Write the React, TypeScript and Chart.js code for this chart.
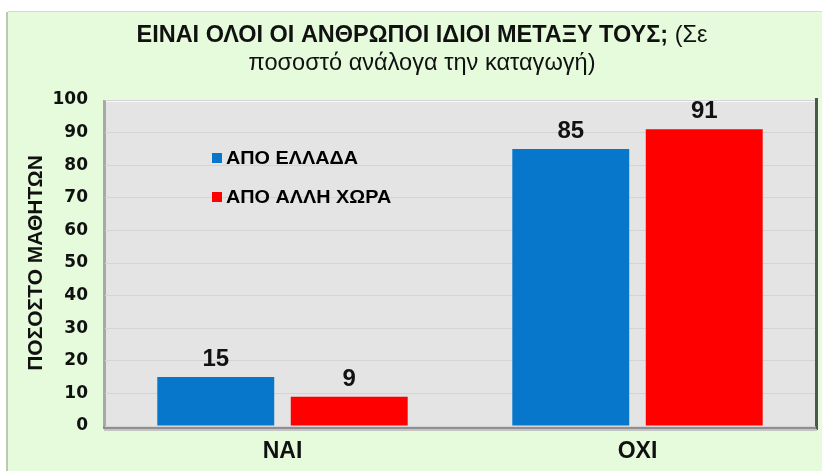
import React, { useEffect, useRef } from "react";
import { Chart, registerables } from "chart.js";

Chart.register(...registerables);

const categories = ["ΝΑΙ", "ΟΧΙ"];
const seriesNames = ["ΑΠΟ ΕΛΛΑΔΑ", "ΑΠΟ ΑΛΛΗ ΧΩΡΑ"];
const greeceValues = [15, 85];
const otherValues = [9, 91];
const seriesColors = ["#0777cc", "#ff0000"];
const yTicks = [0, 10, 20, 30, 40, 50, 60, 70, 80, 90, 100];
const titleBold = "ΕΙΝΑΙ ΟΛΟΙ ΟΙ ΑΝΘΡΩΠΟΙ ΙΔΙΟΙ ΜΕΤΑΞΥ ΤΟΥΣ;";
const titleNormal = " (Σε";
const titleLine2 = "ποσοστό ανάλογα την καταγωγή)";
const yAxisTitle = "ΠΟΣΟΣΤΟ ΜΑΘΗΤΩΝ";

const FONT = "'Liberation Sans', Arial, sans-serif";
const WIDE = "'DejaVu Sans', 'Liberation Sans', sans-serif";

const backgroundPlugin = {
  id: "bgPlugin",
  beforeDraw(chart: any) {
    const { ctx, chartArea } = chart;
    const W = chart.width, H = chart.height;
    ctx.save();
    ctx.fillStyle = "#ffffff";
    ctx.fillRect(0, 0, W, H);
    ctx.fillStyle = "#e5fbdb";
    ctx.fillRect(8, 12, W - 8, H - 12);
    ctx.fillStyle = "#b9c9b3";
    ctx.fillRect(6, 12, 2, H - 12);
    ctx.fillStyle = "#d3dccf";
    ctx.fillRect(8, 11, W - 8, 1);
    const { left, right, top, bottom } = chartArea;
    ctx.fillStyle = "#e4e4e4";
    ctx.fillRect(left, top, right - left, bottom - top);
    ctx.fillStyle = "#a8a8a8";
    ctx.fillRect(left - 2, top, 3, bottom - top + 3);
    ctx.fillStyle = "#f7f7f7";
    ctx.fillRect(left + 1, top, right - left, 2);
    ctx.fillStyle = "#4a5a4a";
    ctx.fillRect(right, top - 2, 3, bottom - top + 6);
    ctx.fillStyle = "#8f8f8f";
    ctx.fillRect(left - 2, bottom, right - left + 3, 3);
    ctx.fillStyle = "#c4c4c4";
    ctx.fillRect(left - 1, bottom + 3, right - left + 3, 2);
    ctx.restore();
  },
  afterDraw(chart: any) {
    const { ctx } = chart;
    ctx.save();
    ctx.fillStyle = "#111111";
    ctx.textBaseline = "alphabetic";
    ctx.textAlign = "left";
    const cx = 422;
    ctx.font = `bold 24px ${FONT}`;
    const wb = ctx.measureText(titleBold).width;
    ctx.font = `24px ${FONT}`;
    const wn = ctx.measureText(titleNormal).width;
    const target1 = 571;
    const s1 = target1 / (wb + wn);
    ctx.save();
    ctx.translate(cx - target1 / 2, 42);
    ctx.scale(s1, 1);
    ctx.font = `bold 24px ${FONT}`;
    ctx.fillText(titleBold, 0, 0);
    ctx.font = `24px ${FONT}`;
    ctx.fillText(titleNormal, wb, 0);
    ctx.restore();
    ctx.font = `24px ${FONT}`;
    const w2 = ctx.measureText(titleLine2).width;
    const target2 = 347;
    const s2 = target2 / w2;
    ctx.save();
    ctx.translate(cx - target2 / 2, 70);
    ctx.scale(s2, 1);
    ctx.fillText(titleLine2, 0, 0);
    ctx.restore();

    const legendItems = [
      { y: 158, color: seriesColors[0], text: seriesNames[0] },
      { y: 197, color: seriesColors[1], text: seriesNames[1] },
    ];
    ctx.font = `bold 18px ${FONT}`;
    ctx.textBaseline = "middle";
    const ls = 132 / ctx.measureText(seriesNames[0]).width;
    legendItems.forEach((it) => {
      ctx.fillStyle = it.color;
      ctx.fillRect(212, it.y - 5, 10, 10);
      ctx.fillStyle = "#000000";
      ctx.save();
      ctx.translate(226, it.y + 1);
      ctx.scale(ls, 1);
      ctx.fillText(it.text, 0, 0);
      ctx.restore();
    });

    ctx.font = `bold 24px ${FONT}`;
    ctx.textAlign = "center";
    ctx.textBaseline = "alphabetic";
    ctx.fillStyle = "#111111";
    chart.data.datasets.forEach((ds: any, i: number) => {
      const meta = chart.getDatasetMeta(i);
      meta.data.forEach((bar: any, j: number) => {
        ctx.fillText(String(ds.data[j]), bar.x, bar.y - 11);
      });
    });
    ctx.restore();
  },
};

export default function App() {
  const ref = useRef<HTMLCanvasElement | null>(null);
  useEffect(() => {
    if (!ref.current) return;
    const chart = new Chart(ref.current, {
      type: "bar",
      data: {
        labels: categories,
        datasets: [
          {
            label: seriesNames[0],
            data: greeceValues,
            backgroundColor: seriesColors[0],
            categoryPercentage: 0.752,
            barPercentage: 0.876,
          },
          {
            label: seriesNames[1],
            data: otherValues,
            backgroundColor: seriesColors[1],
            categoryPercentage: 0.752,
            barPercentage: 0.876,
          },
        ],
      },
      options: {
        animation: false,
        responsive: false,
        maintainAspectRatio: false,
        layout: { padding: { left: 0, right: 7, top: 100, bottom: 0 } },
        plugins: {
          legend: { display: false },
          title: { display: false },
          tooltip: { enabled: false },
        },
        scales: {
          x: {
            grid: { display: false, drawTicks: false },
            border: { display: false },
            ticks: {
              color: "#111111",
              font: { family: FONT, size: 23, weight: "bold" },
              padding: 12,
            },
            afterFit: (scale: any) => {
              scale.height = 45;
            },
          },
          y: {
            min: 0,
            max: 100,
            afterBuildTicks: (scale: any) => {
              scale.ticks = yTicks.map((v) => ({ value: v }));
            },
            grid: { color: "#d4d4d4", drawTicks: false, lineWidth: 1 },
            border: { display: false },
            ticks: {
              color: "#111111",
              font: { family: WIDE, size: 17, weight: "bold" },
              padding: 17,
            },
            title: {
              display: true,
              text: yAxisTitle,
              color: "#111111",
              font: { family: FONT, size: 21, weight: "bold" },
              padding: { top: 24, bottom: 0 },
            },
            afterFit: (scale: any) => {
              scale.width = 105;
            },
          },
        },
      },
      plugins: [backgroundPlugin],
    });
    return () => chart.destroy();
  }, []);
  return (
    <div style={{ position: "fixed", left: 0, top: 0, width: 822, height: 471 }}>
      <canvas ref={ref} width={822} height={471} style={{ width: 822, height: 471, display: "block" }} />
    </div>
  );
}
